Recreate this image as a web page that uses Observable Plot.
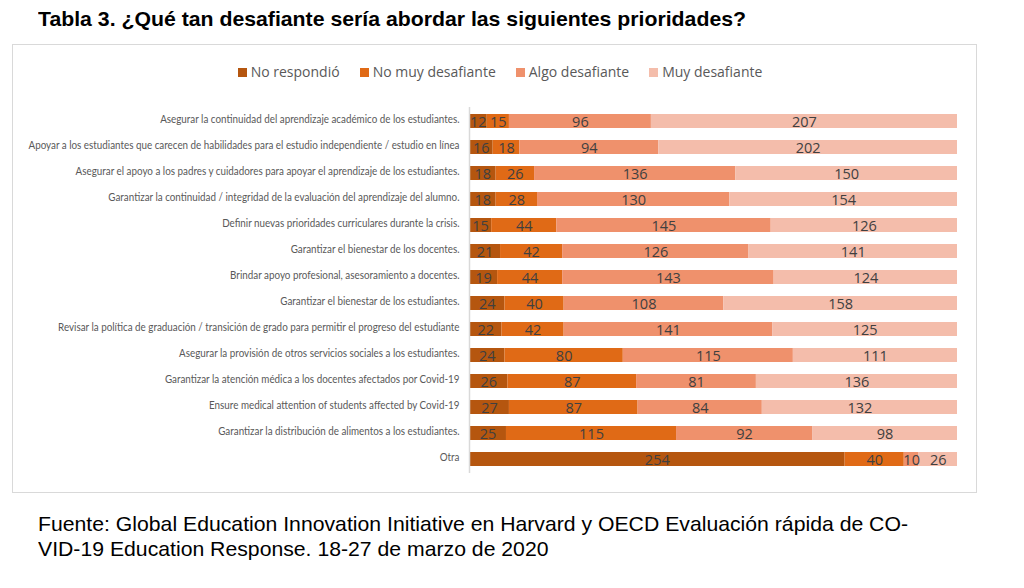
<!DOCTYPE html>
<html>
<head>
<meta charset="utf-8">
<script src="https://cdn.jsdelivr.net/npm/d3@7"></script>
<script src="https://cdn.jsdelivr.net/npm/@observablehq/plot@0.6"></script>
<style>
  html, body { margin: 0; padding: 0; background: #fff; width: 1024px; height: 588px; overflow: hidden; }
  #title { position: absolute; left: 38px; top: 7px; font: bold 21px "Liberation Sans", Arial, sans-serif; line-height: 24px; color: #000; white-space: nowrap; transform-origin: 0 0; }
  #frame { position: absolute; left: 12px; top: 44px; width: 963px; height: 447px; border: 1px solid #d9d9d9; }
  #legend { position: absolute; left: 0; top: 62px; width: 1000px; text-align: center; font: 14px "Open Sans", sans-serif; color: #595959; white-space: nowrap; }
  #legend span.item { display: inline-block; margin: 0 10px; }
  #legend span.sw { display: inline-block; width: 9px; height: 9px; margin-right: 4px; vertical-align: 0px; }
  #chart { position: absolute; left: 0; top: 100px; }
  #caption { position: absolute; left: 38px; top: 511px; font: 21px "Liberation Sans", Arial, sans-serif; color: #000; line-height: 25px; white-space: nowrap; transform-origin: 0 0; }
</style>
</head>
<body>
<div id="title">Tabla 3. ¿Qué tan desafiante sería abordar las siguientes prioridades?</div>
<div id="frame"></div>
<div id="legend"></div>
<div id="chart"></div>
<div id="caption">Fuente: Global Education Innovation Initiative en Harvard y OECD Evaluación rápida de CO-<br>VID-19 Education Response. 18-27 de marzo de 2020</div>
<script>
const categories = [
  "Asegurar la continuidad del aprendizaje académico de los estudiantes.",
  "Apoyar a los estudiantes que carecen de habilidades para el estudio independiente / estudio en línea",
  "Asegurar el apoyo a los padres y cuidadores para apoyar el aprendizaje de los estudiantes.",
  "Garantizar la continuidad / integridad de la evaluación del aprendizaje del alumno.",
  "Definir nuevas prioridades curriculares durante la crisis.",
  "Garantizar el bienestar de los docentes.",
  "Brindar apoyo profesional, asesoramiento a docentes.",
  "Garantizar el bienestar de los estudiantes.",
  "Revisar la política de graduación / transición de grado para permitir el progreso del estudiante",
  "Asegurar la provisión de otros servicios sociales a los estudiantes.",
  "Garantizar la atención médica a los docentes afectados por Covid-19",
  "Ensure medical attention of students affected by Covid-19",
  "Garantizar la distribución de alimentos a los estudiantes.",
  "Otra"
];
const seriesNames = ["No respondió", "No muy desafiante", "Algo desafiante", "Muy desafiante"];
const seriesColors = ["#B5560F", "#E06A16", "#EF916C", "#F4BDAB"];
const noRespondio     = [12, 16, 18, 18, 15, 21, 19, 24, 22, 24, 26, 27, 25, 254];
const noMuyDesafiante = [15, 18, 26, 28, 44, 42, 44, 40, 42, 80, 87, 87, 115, 40];
const algoDesafiante  = [96, 94, 136, 130, 145, 126, 143, 108, 141, 115, 81, 84, 92, 10];
const muyDesafiante   = [207, 202, 150, 154, 126, 141, 124, 158, 125, 111, 136, 132, 98, 26];

const seriesValues = [noRespondio, noMuyDesafiante, algoDesafiante, muyDesafiante];
const data = [];
seriesNames.forEach((s, si) => {
  categories.forEach((c, ci) => {
    data.push({category: c, series: s, value: seriesValues[si][ci]});
  });
});
const total = d3.max(categories.map((c, i) => seriesValues.reduce((a, v) => a + v[i], 0)));

// legend
const legend = document.getElementById("legend");
seriesNames.forEach((s, i) => {
  const item = document.createElement("span");
  item.className = "item";
  item.innerHTML = `<span class="sw" style="background:${seriesColors[i]}"></span>${s}`;
  legend.appendChild(item);
});

const chart = Plot.plot({
  width: 1024,
  height: 380,
  marginLeft: 469,
  marginRight: 67,
  marginTop: 7,
  marginBottom: 7,
  x: {domain: [0, total], axis: null},
  y: {domain: categories, padding: 0.48, paddingOuter: 0.24, label: null},
  color: {domain: seriesNames, range: seriesColors},
  style: {background: "transparent", overflow: "visible"},
  marks: [
    Plot.barX(data, Plot.stackX({x: "value", y: "category", z: "series", fill: "series", order: seriesNames, inset: 0})),
    Plot.text(data, Plot.stackX({x: "value", y: "category", z: "series", order: seriesNames, text: d => String(d.value), fill: "#404040", fontSize: 14.5, fontFamily: "Open Sans, sans-serif", dy: 1})),
    Plot.ruleX([0], {stroke: "#d9d9d9", strokeWidth: 1.5}),
    Plot.axisY({tickSize: 0, tickPadding: 10, fontSize: 10.8, fontFamily: "Lato, sans-serif", fill: "#595959", label: null, dy: -2})
  ]
});
document.getElementById("chart").appendChild(chart);

// condense the y-axis labels so that the longest one spans the reference width
const axisTexts = Array.from(chart.querySelectorAll("g[aria-label='y-axis tick label'] text"));
const widths = axisTexts.map(t => t.getComputedTextLength());
const maxW = d3.max(widths);
const k = Math.min(1, 431 / maxW);
axisTexts.forEach((t, i) => {
  t.setAttribute("textLength", widths[i] * k);
  t.setAttribute("lengthAdjust", "spacingAndGlyphs");
});

// fit title & caption widths to reference
function fit(id, target) {
  const el = document.getElementById(id);
  const w = el.getBoundingClientRect().width;
  el.style.transform = `scaleX(${target / w})`;
}
fit("title", 708);
fit("caption", 870);
</script>
</body>
</html>
